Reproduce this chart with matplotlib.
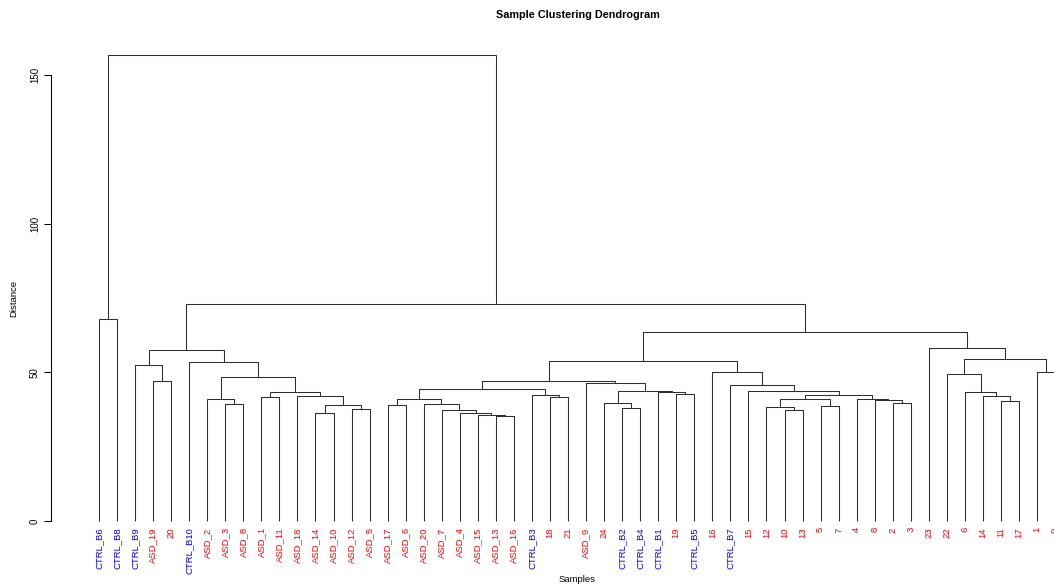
import matplotlib
matplotlib.use("Agg")
import matplotlib.pyplot as plt

plt.rcParams['font.family'] = ['Liberation Sans', 'DejaVu Sans']

# Leaf order along the x axis
leaf_labels = [
    "CTRL_B6", "CTRL_B8", "CTRL_B9", "ASD_19", "20", "CTRL_B10", "ASD_2", "ASD_3",
    "ASD_8", "ASD_1", "ASD_11", "ASD_18", "ASD_14", "ASD_10", "ASD_12", "ASD_5",
    "ASD_17", "ASD_6", "ASD_20", "ASD_7", "ASD_4", "ASD_15", "ASD_13", "ASD_16",
    "CTRL_B3", "18", "21", "ASD_9", "24", "CTRL_B2", "CTRL_B4", "CTRL_B1", "19",
    "CTRL_B5", "16", "CTRL_B7", "15", "12", "10", "13", "5", "7", "4", "8", "2",
    "3", "23", "22", "6", "14", "11", "17", "1", "9",
]

# Agglomeration steps: a leaf name or the index of an earlier merge on each side
merge_left = [
    "CTRL_B6", "ASD_19", "CTRL_B9", "ASD_3", "ASD_2", "ASD_1", "ASD_14", "ASD_12",
    6, "ASD_18", 5, 4, "CTRL_B10", 2, "ASD_17", "ASD_13", "ASD_15", "ASD_4",
    "ASD_7", "ASD_20", 14, "18", "CTRL_B3", 20, "CTRL_B2", "24", "19", "CTRL_B1",
    25, "ASD_9", 23, "10", "12", "5", 32, "2", "8", "4", 34, "15", "CTRL_B7",
    "16", 30, "11", "14", "6", "22", "1", 46, "23", 42, 13, 0,
]
merge_right = [
    "CTRL_B8", "20", 1, "ASD_8", 3, "ASD_11", "ASD_10", "ASD_5",
    7, 8, 9, 10, 11, 12, "ASD_6", "ASD_16", 15, 16,
    17, 18, 19, "21", 21, 22, "CTRL_B4", 24, "CTRL_B5", 26,
    27, 28, 29, "13", 31, "7", 33, "3", 35, 36, 37, 38, 39,
    40, 41, "17", 43, 44, 45, "9", 47, 48, 49, 50, 51,
]
merge_height = [
    67.9, 47.1, 52.5, 39.4, 41.0, 41.7, 36.3, 37.7,
    39.0, 42.0, 43.4, 48.4, 53.5, 57.5, 39.0, 35.3, 35.7, 36.3,
    37.3, 39.4, 41.0, 41.7, 42.4, 44.4, 38.0, 39.7, 42.7, 43.4,
    43.7, 46.4, 47.1, 37.3, 38.3, 38.7, 41.0, 39.7, 40.7, 41.0, 42.4, 43.7, 45.7,
    50.1, 53.8, 40.4, 42.0, 43.4, 49.4, 50.1, 54.5, 58.2, 63.6, 73.0, 156.7,
]

y_ticks = [0, 50, 100, 150]

leaf_pos = {name: i + 1 for i, name in enumerate(leaf_labels)}
leaf_colors = ["blue" if name.startswith("CTRL") else "red" for name in leaf_labels]

W, H, DPI = 1054, 588, 100
fig = plt.figure(figsize=(W / DPI, H / DPI), dpi=DPI)

# plot region in pixels
left_px, right_px = 51, 1054
top_px, bottom_px = 40, 540
ax = fig.add_axes([left_px / W, 1 - bottom_px / H,
                   (right_px - left_px) / W, (bottom_px - top_px) / H])

step = 18.04          # pixels between neighbouring leaves
first_leaf_px = 99
zero_px = 521
unit_px = 2.973       # pixels per distance unit
ax.set_xlim(1 - (first_leaf_px - left_px) / step,
            1 + (right_px - first_leaf_px) / step)
ax.set_ylim(-(bottom_px - zero_px) / unit_px, (zero_px - top_px) / unit_px)


def node_xy(ref, pos):
    if isinstance(ref, str):
        return leaf_pos[ref], 0.0
    return pos[ref]


line_kw = dict(color="#2e2e2e", lw=0.75, solid_capstyle="butt", clip_on=False)
pos = []
for a, b, h in zip(merge_left, merge_right, merge_height):
    xa, ha = node_xy(a, pos)
    xb, hb = node_xy(b, pos)
    ax.plot([xa, xa, xb, xb], [ha, h, h, hb], **line_kw)
    pos.append(((xa + xb) / 2, h))

for i, (name, col) in enumerate(zip(leaf_labels, leaf_colors)):
    ax.annotate(name, xy=(i + 1, 0), xytext=(0, -4.5), textcoords="offset points",
                rotation=90, ha="center", va="top", fontsize=6.8, color=col,
                annotation_clip=False)

for side in ("top", "right", "bottom"):
    ax.spines[side].set_visible(False)
ax.spines["left"].set_bounds(0, 150)
ax.spines["left"].set_linewidth(0.75)
ax.set_xticks([])
ax.set_yticks(y_ticks)
ax.set_yticklabels([str(t) for t in y_ticks], rotation=90, va="center")
ax.tick_params(axis="y", length=5, width=0.75, pad=3, labelsize=7)

fig.text(578 / W, 1 - 15 / H, "Sample Clustering Dendrogram", ha="center",
         va="center", fontsize=7.8, fontweight="bold")
fig.text(577 / W, 1 - 579 / H, "Samples", ha="center", va="center", fontsize=6.8)
fig.text(14 / W, 1 - 298 / H, "Distance", ha="center", va="center",
         fontsize=6.8, rotation=90)

fig.savefig("out.png", dpi=DPI)
